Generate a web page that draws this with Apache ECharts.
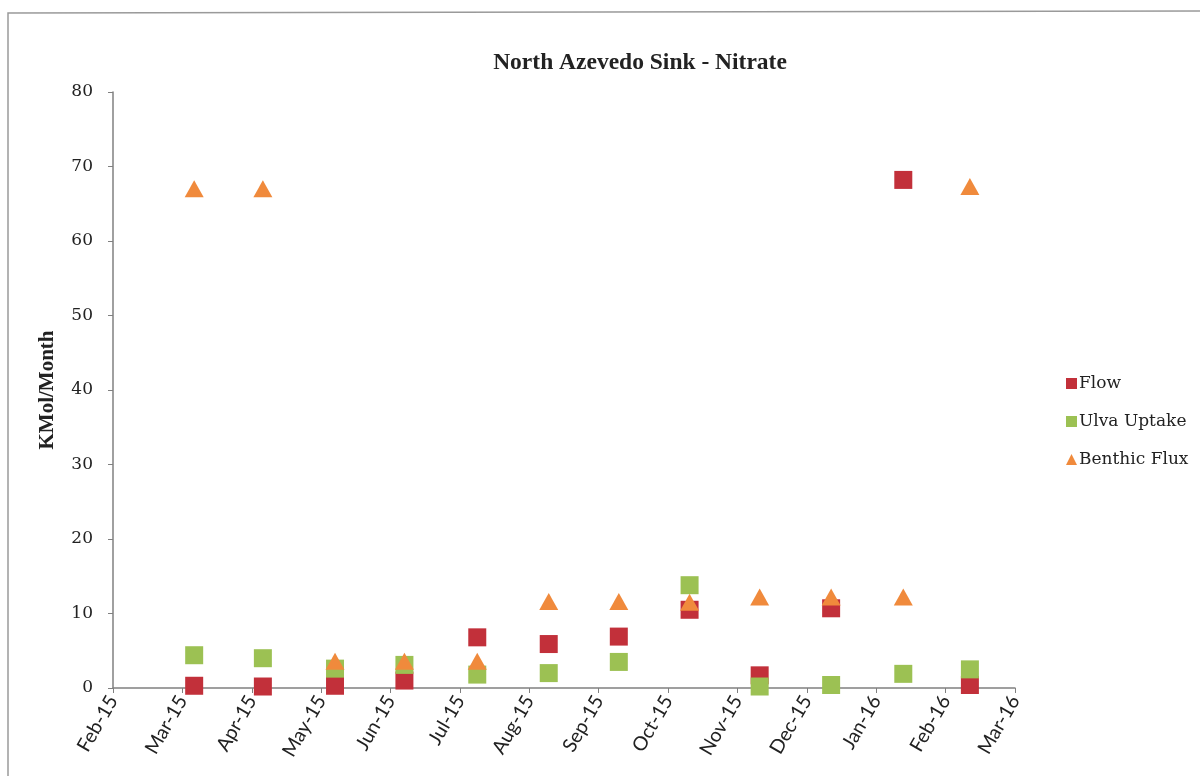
<!DOCTYPE html>
<html><head><meta charset="utf-8">
<script src="https://cdn.jsdelivr.net/npm/echarts@6/dist/echarts.min.js"></script>
<style>html,body{margin:0;padding:0;background:#fff}#c{width:1200px;height:776px}</style>
</head><body><div id="c"></div>
<script>
// x tick labels (month index 0..13)
const tickLabels = ['Feb-15','Mar-15','Apr-15','May-15','Jun-15','Jul-15','Aug-15','Sep-15','Oct-15','Nov-15','Dec-15','Jan-16','Feb-16','Mar-16'];
// sample positions in months since Feb-15
const sampleX = [1.17, 2.16, 3.20, 4.20, 5.25, 6.28, 7.29, 8.31, 9.32, 10.35, 11.39, 12.35];
const flow = [0.3, 0.2, 0.3, 1.0, 6.8, 5.9, 6.9, 10.5, 1.7, 10.7, 68.2, 0.4];
const ulva = [4.4, 4.0, 2.6, 3.1, 1.8, 2.0, 3.5, 13.8, 0.2, 0.4, 1.9, 2.5];
const benthic = [67.0, 67.0, 3.6, 3.6, 3.6, 11.6, 11.6, 11.5, 12.2, 12.2, 12.2, 67.3];

const pair = arr => sampleX.map((x, i) => [x, arr[i]]);
const serif = '"Liberation Serif",serif';
const dserif = '"DejaVu Serif",serif';
const sans = 'Lato,"Liberation Sans",sans-serif';
const chart = echarts.init(document.getElementById('c'));
chart.setOption({
  animation: false,
  backgroundColor: '#fff',
  title: {text: 'North Azevedo Sink - Nitrate', left: 635, top: 46, textAlign: 'center',
    textStyle: {fontFamily: serif, fontSize: 23.5, fontWeight: 'bold', color: '#222'}},
  graphic: [{type: 'polyline', shape: {points: [[8, 776], [8, 13], [1200, 11]]}, style: {stroke: '#9a9a9a', lineWidth: 1.5, fill: null}, silent: true}],
  legend: {orient: 'vertical', left: 1061, top: 370, itemGap: 21, itemWidth: 11, itemHeight: 11,
    textStyle: {fontFamily: dserif, fontSize: 17, color: '#222', padding: [0, 0, 0, -3]},
    data: [{name: 'Flow', icon: 'rect'}, {name: 'Ulva Uptake', icon: 'rect'}, {name: 'Benthic Flux', icon: 'triangle'}]},
  grid: {left: 113, right: 185, top: 92, bottom: 88, containLabel: false},
  xAxis: {type: 'value', min: 0, max: 13, interval: 1,
    axisLine: {lineStyle: {color: '#808080', width: 1.5}},
    axisTick: {show: true, length: 5, lineStyle: {color: '#808080'}},
    splitLine: {show: false},
    axisLabel: {rotate: 60, margin: 9, fontFamily: sans, fontSize: 19.5, color: '#222',
      formatter: v => tickLabels[Math.round(v)]}},
  yAxis: {type: 'value', min: 0, max: 80, interval: 10,
    name: 'KMol/Month', nameLocation: 'middle', nameGap: 55, nameRotate: 90,
    nameTextStyle: {fontFamily: serif, fontSize: 21, fontWeight: 'bold', color: '#222'},
    axisLine: {show: true, lineStyle: {color: '#808080', width: 1.5}},
    axisTick: {show: true, length: 5, lineStyle: {color: '#808080'}},
    splitLine: {show: false},
    axisLabel: {fontFamily: dserif, fontSize: 17, color: '#222', margin: 20}},
  series: [
    {name: 'Flow', type: 'scatter', symbol: 'rect', symbolSize: 18, data: pair(flow), itemStyle: {color: '#C2303A', opacity: 1}},
    {name: 'Ulva Uptake', type: 'scatter', symbol: 'rect', symbolSize: 18, data: pair(ulva), itemStyle: {color: '#9CC153', opacity: 1}},
    {name: 'Benthic Flux', type: 'scatter', symbol: 'triangle', symbolSize: [19, 17], data: pair(benthic), itemStyle: {color: '#F08A3C', opacity: 1}}
  ]
});
</script></body></html>
